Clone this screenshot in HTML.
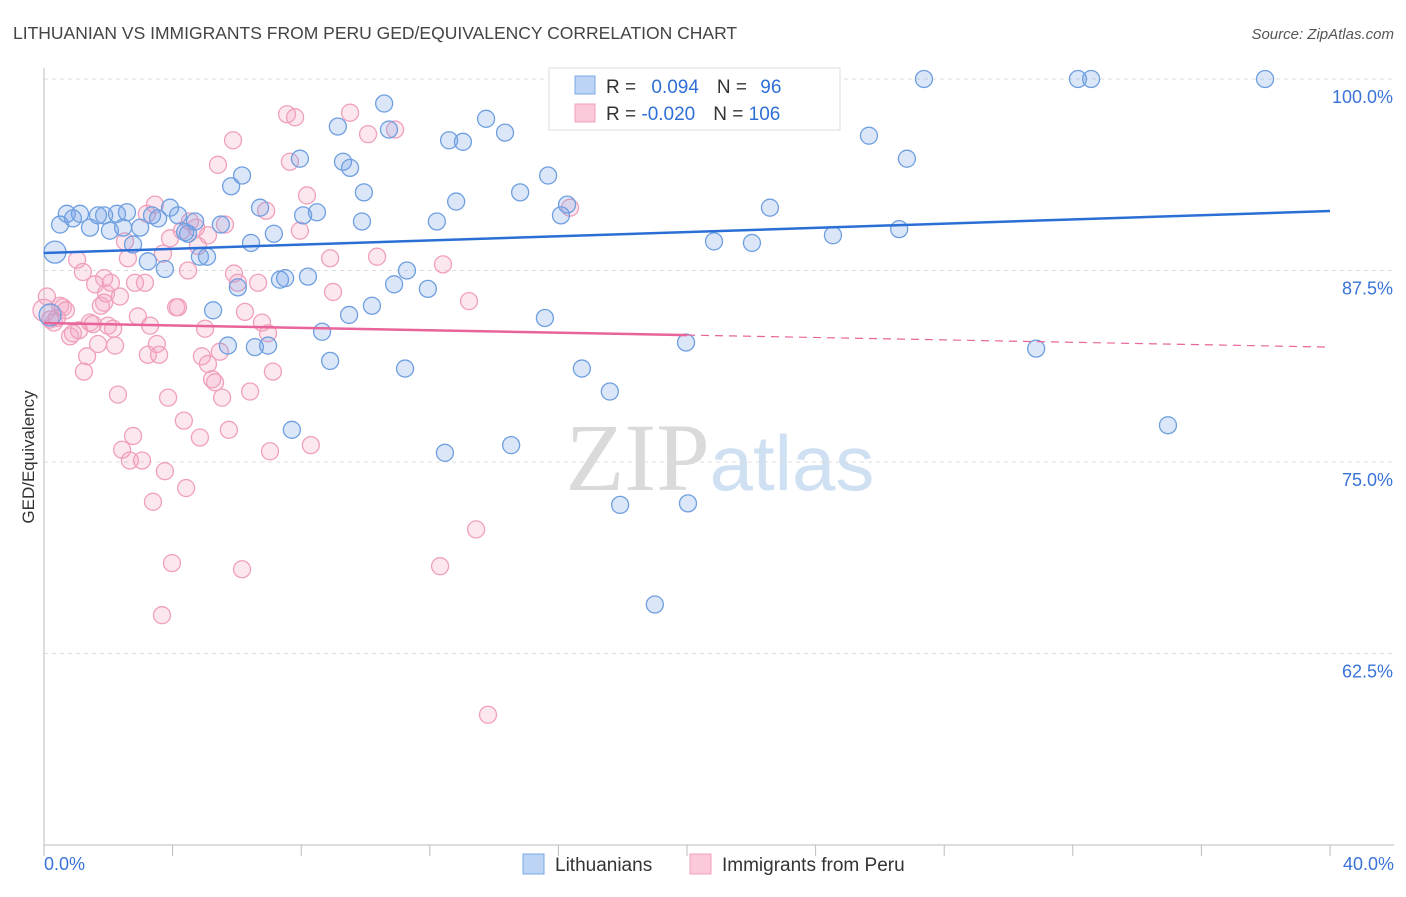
<!DOCTYPE html>
<html><head><meta charset="utf-8">
<style>
body{margin:0;background:#fff;font-family:"Liberation Sans",sans-serif;}
svg text{font-family:"Liberation Sans",sans-serif;}
</style></head>
<body>
<svg id="chart" width="1406" height="892" xmlns="http://www.w3.org/2000/svg">
<text x="13" y="39" font-size="17.5" fill="#444">LITHUANIAN VS IMMIGRANTS FROM PERU GED/EQUIVALENCY CORRELATION CHART</text>
<text x="1394" y="39" font-size="15" fill="#555" text-anchor="end" font-style="italic">Source: ZipAtlas.com</text>
<text x="720" y="490" font-size="96" text-anchor="middle" fill="#e4e4e4"><tspan font-family="Liberation Serif" fill="#dadada">ZIP</tspan><tspan fill="#cfe0f3" font-size="78">atlas</tspan></text>
<text transform="translate(34,457) rotate(-90)" font-size="17" fill="#333" text-anchor="middle">GED/Equivalency</text>
<g id="grid"></g>
<g id="marks"></g>
<g id="trend"></g>
<g>
<rect x="549" y="68" width="291" height="62" fill="#fff" stroke="#ddd"/>
<rect x="575" y="76" width="20" height="18" fill="#bcd5f5" stroke="#7aa8e6"/>
<rect x="575" y="104" width="20" height="18" fill="#fbc9da" stroke="#f0a0bc"/>
<text x="606" y="93" font-size="19" fill="#333">R = <tspan fill="#2f6fd6" dx="10">0.094</tspan><tspan dx="18" fill="#333">N = </tspan><tspan dx="8" fill="#2f6fd6">96</tspan></text>
<text x="606" y="120" font-size="19" fill="#333">R = <tspan fill="#2f6fd6">-0.020</tspan><tspan dx="18" fill="#333">N = </tspan><tspan fill="#2f6fd6">106</tspan></text>
</g>
<g>
<rect x="523" y="854" width="21" height="20" fill="#bcd5f5" stroke="#7aa8e6"/>
<text x="555" y="871" font-size="19" fill="#333">Lithuanians</text>
<rect x="690" y="854" width="21" height="20" fill="#fbc9da" stroke="#f0a0bc"/>
<text x="722" y="871" font-size="19" fill="#333">Immigrants from Peru</text>
</g>
</svg>
<script>
const blueX=[0.34,0.5,0.71,0.9,1.12,1.43,1.68,1.87,2.05,2.27,2.46,2.58,2.77,2.99,3.23,3.36,3.55,3.76,3.92,4.17,4.39,4.48,4.7,4.85,5.07,5.26,5.5,5.72,5.82,6.03,6.16,6.44,6.56,6.72,6.97,7.15,7.34,7.5,7.71,7.96,8.06,8.21,8.49,8.65,8.9,9.14,9.3,9.52,9.49,9.89,9.95,10.2,10.58,10.73,10.89,11.23,11.29,11.94,12.22,12.47,12.6,12.82,13.03,13.75,14.34,14.53,14.81,15.58,15.68,16.08,16.27,16.73,17.6,17.92,18.23,19.0,19.97,20.03,20.84,22.02,22.58,22.64,23.64,24.54,25.66,26.6,26.84,27.37,30.86,32.16,32.57,34.96,37.98,0.19];
const blueY=[88.7,90.5,91.2,90.9,91.2,90.3,91.1,91.1,90.1,91.2,90.3,91.3,89.2,90.3,88.1,91.1,90.9,87.6,91.6,91.1,90.0,89.9,90.7,88.4,88.4,84.9,90.5,82.6,93.0,86.4,93.7,89.3,82.5,91.6,82.6,89.9,86.9,87.0,77.1,94.8,91.1,87.1,91.3,83.5,81.6,96.9,94.6,94.2,84.6,90.7,92.6,85.2,98.4,96.7,86.6,81.1,87.5,86.3,90.7,75.6,96.0,92.0,95.9,97.4,96.5,76.1,92.6,84.4,93.7,91.1,91.8,81.1,79.6,72.2,100,65.7,82.8,72.3,89.4,89.3,91.6,100,100,89.8,96.3,90.2,94.8,100,82.4,100,100,77.4,100,84.6];
const pinkX=[0,0.09,0.19,0.31,0.4,0.5,0.59,0.68,0.81,0.9,1.03,1.09,1.21,1.24,1.34,1.43,1.52,1.59,1.68,1.77,1.87,1.93,1.99,2.08,2.15,2.21,2.3,2.36,2.43,2.52,2.61,2.67,2.77,2.83,2.92,3.05,3.14,3.23,3.3,3.39,3.45,3.51,3.58,3.67,3.7,3.76,3.86,3.92,3.98,4.11,4.17,4.29,4.35,4.42,4.48,4.54,4.73,4.79,4.85,4.91,5.01,5.1,5.23,5.32,5.41,5.47,5.54,5.63,5.75,5.88,5.91,6.03,6.16,6.25,6.41,6.66,6.78,6.91,6.97,7.03,7.12,7.56,7.65,7.81,7.96,8.18,8.3,8.9,8.99,9.52,10.08,10.36,10.92,12.32,12.41,13.22,13.44,13.81,16.36,1.87,3.2,5.1];
const pinkY=[84.9,85.8,84.3,84.1,84.4,85.2,85.1,84.9,83.2,83.4,88.2,83.6,87.4,80.9,81.9,84.1,84.0,86.6,82.7,85.2,87.0,86.0,83.9,86.7,83.7,82.6,79.4,85.8,75.8,89.4,88.3,75.1,76.7,86.7,84.5,75.1,86.7,82.0,83.9,72.4,91.8,82.7,82.0,65.0,88.6,74.4,79.2,89.6,68.4,85.1,85.1,90.1,77.7,73.3,87.5,90.7,90.3,89.1,76.6,81.9,83.7,81.4,80.4,80.2,94.4,82.2,79.2,90.5,77.1,96.0,87.3,86.7,68.0,84.8,79.6,86.7,84.1,91.4,83.4,75.7,80.9,97.7,94.6,97.5,90.1,92.4,76.1,88.3,86.1,97.8,96.4,88.4,96.7,68.2,87.9,85.5,70.6,58.5,91.6,85.4,91.2,89.8];
const yTicks=[100,87.5,75,62.5];
const yTickLabels=["100.0%","87.5%","75.0%","62.5%"];
const xTicks=[0,4,8,12,16,20,24,28,32,36,40];
const blueTrend=[88.64,91.38];
const pinkTrend=[84.07,82.5];
const NS="http://www.w3.org/2000/svg";
const sx=v=>44+v*32.15, sy=v=>79+(100-v)*15.32;
function mk(t,a,p){const e=document.createElementNS(NS,t);for(const k in a)e.setAttribute(k,a[k]);p.appendChild(e);return e;}
const grid=document.getElementById('grid'),marks=document.getElementById('marks'),trend=document.getElementById('trend');
yTicks.forEach((v,i)=>{
 const l=mk('line',{x1:44,x2:1394,y1:sy(v),y2:sy(v),stroke:'#ddd','stroke-dasharray':'4,4'},grid);
 
 
 const t=mk('text',{x:1393,y:sy(v)+24,'font-size':18,fill:'#3a73d8','text-anchor':'end'},grid);t.textContent=yTickLabels[i];
 
 
});
const ax=mk('line',{x1:44,x2:1394,y1:sy(50),y2:sy(50),stroke:'#bbb'},grid);


const ay=mk('line',{x1:44,x2:44,y1:68,y2:sy(50),stroke:'#bbb'},grid);


xTicks.forEach(v=>{const t=mk('line',{x1:sx(v),x2:sx(v),y1:sy(50),y2:sy(50)+11,stroke:'#bbb'},grid);
 
 });
let t0=mk('text',{x:44,y:870,'font-size':18,fill:'#3a73d8'},grid);t0.textContent='0.0%';


let t1=mk('text',{x:1394,y:870,'font-size':18,fill:'#3a73d8','text-anchor':'end'},grid);t1.textContent='40.0%';


pinkX.forEach((x,i)=>{const c=mk('circle',{cx:sx(x),cy:sy(pinkY[i]),r:i==0?11:8.5,fill:'rgba(244,160,190,0.25)',stroke:'#f0a0bc','stroke-width':1.3},marks);
 
 });
blueX.forEach((x,i)=>{const c=mk('circle',{cx:sx(x),cy:sy(blueY[i]),r:(i==0||i==blueX.length-1)?11:8.5,fill:'rgba(110,160,230,0.25)',stroke:'#6f9fe0','stroke-width':1.3},marks);
 
 });
const bl=mk('line',{x1:sx(0),y1:sy(blueTrend[0]),x2:sx(40),y2:sy(blueTrend[1]),stroke:'#2b6fd6','stroke-width':2.5},trend);


const pm=pinkTrend[0]+(pinkTrend[1]-pinkTrend[0])*0.5;
const pl=mk('line',{x1:sx(0),y1:sy(pinkTrend[0]),x2:sx(20),y2:sy(pm),stroke:'#e8649a','stroke-width':2.5},trend);


const pd=mk('line',{x1:sx(20),y1:sy(pm),x2:sx(40),y2:sy(pinkTrend[1]),stroke:'#e8649a','stroke-width':1.2,'stroke-dasharray':'8,6'},trend);


</script>
</body></html>
